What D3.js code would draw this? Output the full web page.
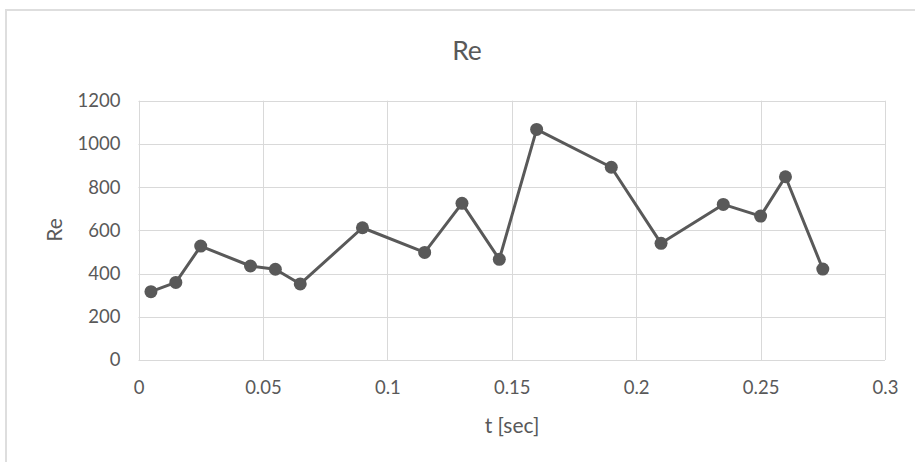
<!DOCTYPE html>
<html>
<head>
<meta charset="utf-8">
<script src="https://cdn.jsdelivr.net/npm/d3@7"></script>
<style>
  html, body { margin: 0; padding: 0; background: #fff; }
  svg { display: block; }
  text { font-family: Lato, "Open Sans", sans-serif; fill: #595959; }
</style>
</head>
<body>
<svg id="chart" width="915" height="462"></svg>
<script>
// Reynolds number samples over time
const times = [0.005, 0.015, 0.025, 0.045, 0.055, 0.065, 0.09, 0.115, 0.13, 0.145,
               0.16, 0.19, 0.21, 0.235, 0.25, 0.26, 0.275];
const reValues = [316, 359, 527, 435, 420, 352, 612, 498, 725, 466,
                  1067, 892, 540, 720, 666, 848, 421];
const xTicks = [0, 0.05, 0.1, 0.15, 0.2, 0.25, 0.3];
const yTicks = [0, 200, 400, 600, 800, 1000, 1200];

const svg = d3.select("#chart");
const plot = { left: 138.5, right: 885, top: 100.7, bottom: 360 };

// chart frame
svg.append("rect")
  .attr("x", 6).attr("y", 10)
  .attr("width", 1200).attr("height", 1000)
  .attr("fill", "none")
  .attr("stroke", "#dedede")
  .attr("stroke-width", 2);

const x = d3.scaleLinear().domain([0, 0.3]).range([plot.left, plot.right]);
const y = d3.scaleLinear().domain([0, 1200]).range([plot.bottom, plot.top]);

// gridlines
const grid = svg.append("g").attr("stroke", "#d9d9d9").attr("stroke-width", 1);
grid.selectAll("line.h").data(yTicks).join("line")
  .attr("class", "h")
  .attr("x1", plot.left).attr("x2", plot.right)
  .attr("y1", d => Math.round(y(d)) + 0.5).attr("y2", d => Math.round(y(d)) + 0.5);
grid.selectAll("line.v").data(xTicks).join("line")
  .attr("class", "v")
  .attr("y1", plot.top).attr("y2", plot.bottom)
  .attr("x1", d => Math.round(x(d)) + 0.5).attr("x2", d => Math.round(x(d)) + 0.5);

// axes (labels only)
const xAxis = svg.append("g")
  .attr("transform", `translate(0,${plot.bottom})`)
  .call(d3.axisBottom(x).tickValues(xTicks).tickSize(0).tickPadding(21)
        .tickFormat(d => String(+d.toFixed(2))));
const yAxis = svg.append("g")
  .attr("transform", `translate(${plot.left},0)`)
  .call(d3.axisLeft(y).tickValues(yTicks).tickSize(0).tickPadding(18)
        .tickFormat(d3.format("d")));
[xAxis, yAxis].forEach(a => {
  a.select(".domain").remove();
  a.selectAll("text")
    .attr("font-family", "Lato, 'Open Sans', sans-serif")
    .attr("font-size", 18.5)
    .attr("fill", "#595959");
});

// series line
const line = d3.line().x((d, i) => x(times[i])).y(d => y(d));
svg.append("path")
  .datum(reValues)
  .attr("d", line)
  .attr("fill", "none")
  .attr("stroke", "#595959")
  .attr("stroke-width", 3)
  .attr("stroke-linejoin", "round");

// markers
svg.selectAll("circle.pt").data(reValues).join("circle")
  .attr("class", "pt")
  .attr("cx", (d, i) => x(times[i]))
  .attr("cy", d => y(d))
  .attr("r", 6.5)
  .attr("fill", "#595959");

// titles
svg.append("text")
  .attr("x", 467).attr("y", 60)
  .attr("text-anchor", "middle")
  .attr("font-size", 26.5)
  .text("Re");

svg.append("text")
  .attr("x", 512).attr("y", 433)
  .attr("text-anchor", "middle")
  .attr("font-size", 21)
  .text("t [sec]");

svg.append("text")
  .attr("transform", "translate(62,230) rotate(-90)")
  .attr("text-anchor", "middle")
  .attr("font-size", 21)
  .text("Re");
</script>
</body>
</html>
